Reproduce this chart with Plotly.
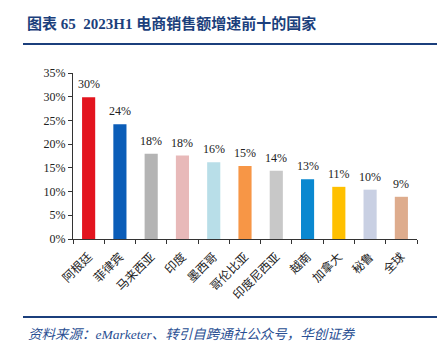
import plotly.graph_objects as go

categories = ["阿根廷", "菲律宾", "马来西亚", "印度", "墨西哥", "哥伦比亚", "印度尼西亚", "越南", "加拿大", "秘鲁", "全球"]
values = [29.9, 24.2, 18.0, 17.6, 16.2, 15.4, 14.4, 12.6, 11.0, 10.4, 8.9]
labels = ["30%", "24%", "18%", "18%", "16%", "15%", "14%", "13%", "11%", "10%", "9%"]
colors = ["#E3141E", "#0B5DB8", "#B4B4B4", "#E8B9B9", "#B8DEE8", "#F79646",
          "#C8C8C8", "#0A88D0", "#FFC000", "#C9D0E3", "#DEAC8D"]
y_ticks = [0, 5, 10, 15, 20, 25, 30, 35]
y_ticktext = ["0%", "5%", "10%", "15%", "20%", "25%", "30%", "35%"]

serif = "Times New Roman, Liberation Serif, Noto Sans CJK SC"
title_blue = "#1B3F7C"

fig = go.Figure()
fig.add_trace(go.Bar(x=categories, y=values, marker=dict(color=colors, line=dict(width=0)),
                     hoverinfo="skip"))

for c, v, t in zip(categories, values, labels):
    fig.add_annotation(x=c, y=v, text=t, showarrow=False, xref="x", yref="y",
                       yanchor="middle", yshift=13,
                       font=dict(family=serif, size=12, color="#222222"))

fig.update_layout(
    width=447, height=351,
    margin=dict(l=73, r=30, t=73, b=112),
    paper_bgcolor="white", plot_bgcolor="white",
    bargap=0.58, showlegend=False,
    xaxis=dict(type="category", showline=True, linecolor="#333333", linewidth=1,
               ticks="outside", tickson="boundaries", ticklen=4, tickcolor="#333333",
               tickangle=-45, ticklabelstandoff=5,
               tickfont=dict(family="Noto Sans CJK SC", size=12, color="#222222"),
               showgrid=False, fixedrange=True),
    yaxis=dict(range=[0, 35], tickvals=y_ticks, ticktext=y_ticktext,
               showline=True, linecolor="#333333", linewidth=1,
               ticks="outside", ticklen=4, tickcolor="#333333",
               tickfont=dict(family=serif, size=12, color="#222222"),
               showgrid=False, zeroline=False, fixedrange=True),
)

# Title and source
fig.add_annotation(xref="paper", yref="paper", x=(25 - 73) / 344, y=1 + (73 - 23) / 166,
                   xanchor="left", yanchor="middle", showarrow=False,
                   text="<b>图表 65  2023H1 电商销售额增速前十的国家</b>",
                   font=dict(family="Liberation Serif, Noto Sans CJK SC", size=15, color=title_blue))
fig.add_shape(type="line", xref="paper", yref="paper",
              x0=(23 - 73) / 344, x1=(437 - 73) / 344,
              y0=1 + (73 - 44) / 166, y1=1 + (73 - 44) / 166,
              line=dict(color=title_blue, width=2))
fig.add_shape(type="line", xref="paper", yref="paper",
              x0=(23 - 73) / 344, x1=(437 - 73) / 344,
              y0=-(317 - 239) / 166, y1=-(317 - 239) / 166,
              line=dict(color=title_blue, width=2))
fig.add_annotation(xref="paper", yref="paper", x=(26 - 73) / 344, y=-(334 - 239) / 166,
                   xanchor="left", yanchor="middle", showarrow=False,
                   text="<i>资料来源：eMarketer、转引自跨通社公众号，华创证券</i>",
                   font=dict(family="Liberation Serif, Noto Sans CJK SC", size=13.5, color="#2A4F93"))

fig.write_html("out.html")
